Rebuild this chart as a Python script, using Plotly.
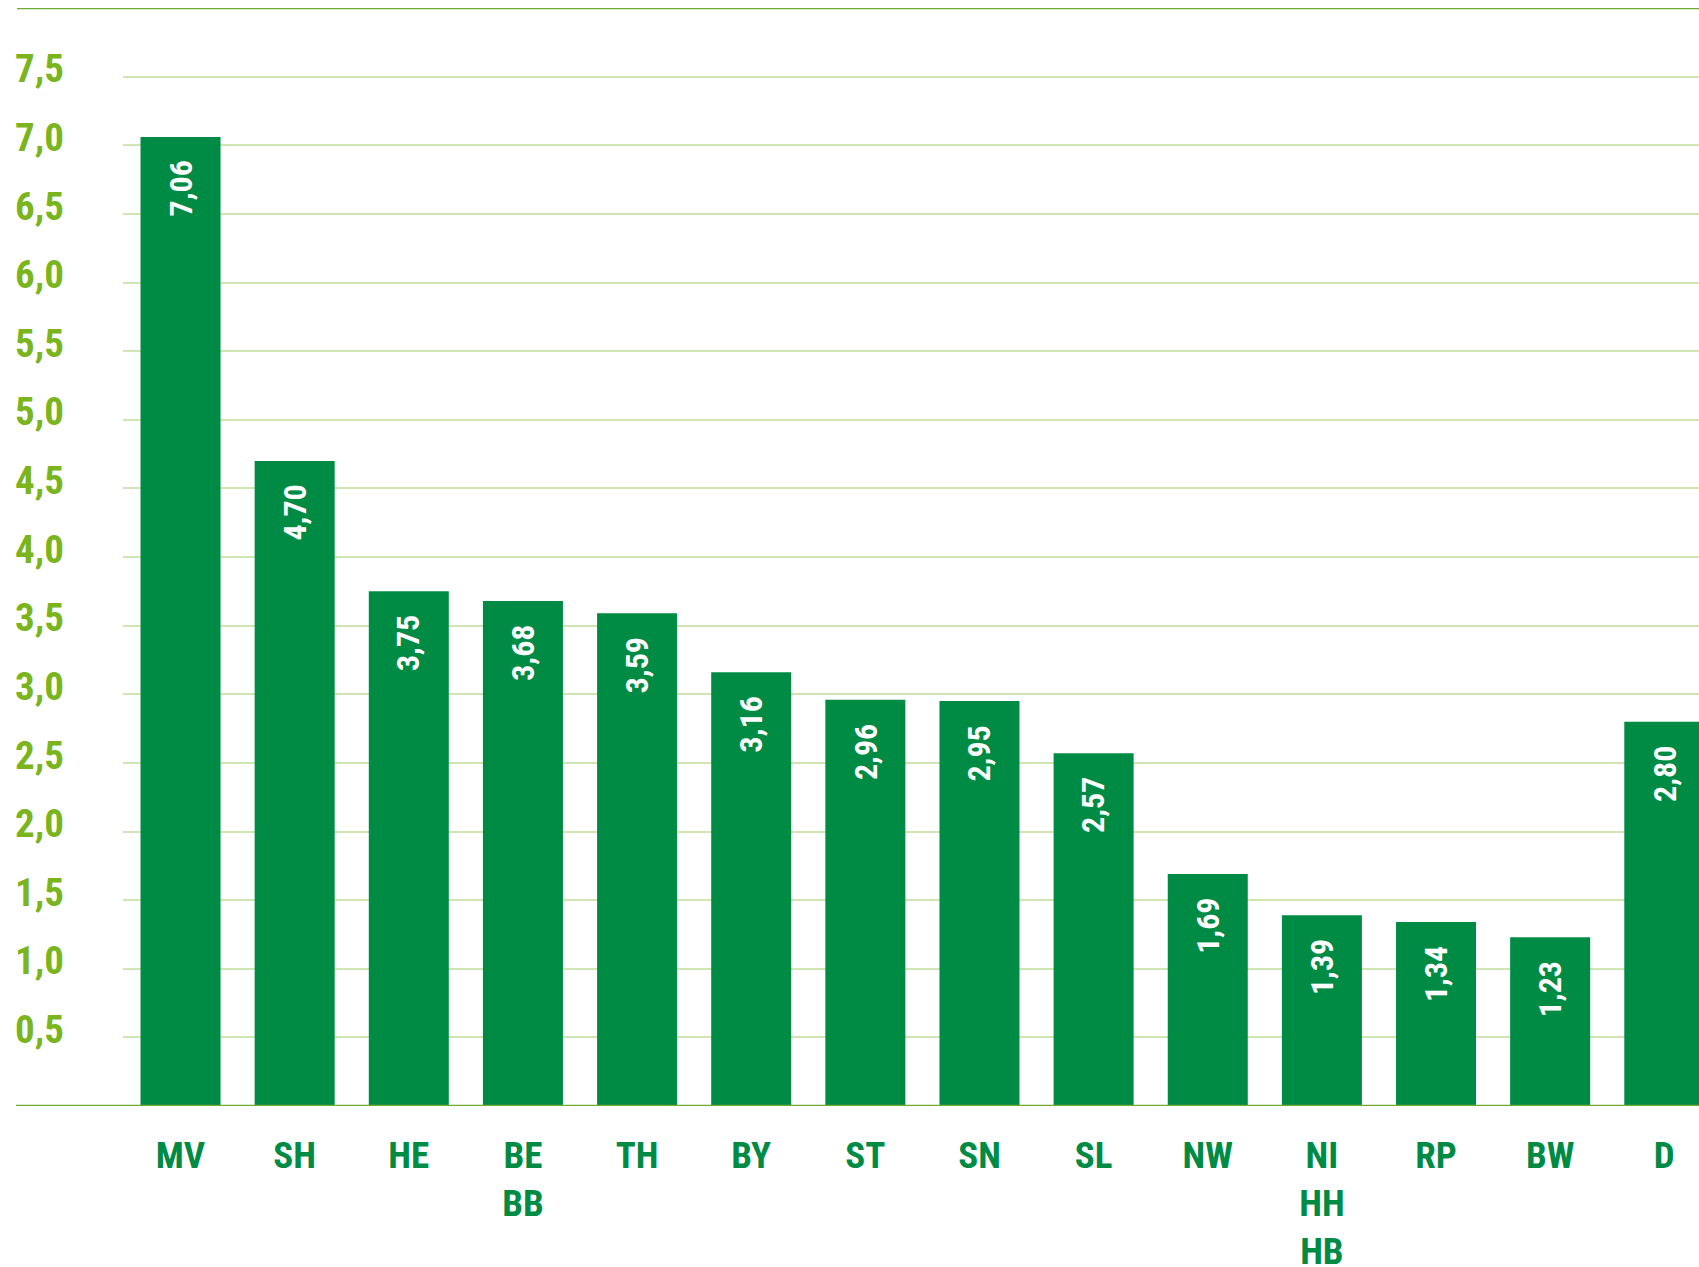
import plotly.graph_objects as go

categories = ["MV", "SH", "HE", "BE<br>BB", "TH", "BY", "ST", "SN", "SL", "NW",
              "NI<br>HH<br>HB", "RP", "BW", "D"]
values = [7.06, 4.70, 3.75, 3.68, 3.59, 3.16, 2.96, 2.95, 2.57, 1.69, 1.39, 1.34, 1.23, 2.80]
value_labels = ["7,06", "4,70", "3,75", "3,68", "3,59", "3,16", "2,96", "2,95", "2,57",
                "1,69", "1,39", "1,34", "1,23", "2,80"]
y_tickvals = [0.5, 1.0, 1.5, 2.0, 2.5, 3.0, 3.5, 4.0, 4.5, 5.0, 5.5, 6.0, 6.5, 7.0, 7.5]
y_ticktext = ["0,5", "1,0", "1,5", "2,0", "2,5", "3,0", "3,5", "4,0", "4,5", "5,0",
              "5,5", "6,0", "6,5", "7,0", "7,5"]

FONT = "Roboto Condensed, Open Sans Condensed, DejaVu Sans Condensed, sans-serif"
BAR = "#008b45"
OLIVE = "#7ab51d"
LINE = "#6fab2e"
GRID = "#cfe6b4"

W, H = 1699, 1267
L, T, B = 123, 8, 161
plot_w = W - L

fig = go.Figure()
fig.add_trace(go.Bar(x=categories, y=values, marker_color=BAR, marker_line_width=0,
                     hoverinfo="skip"))

for c, v, t in zip(categories, values, value_labels):
    fig.add_annotation(x=c, y=v, text=t, showarrow=False, textangle=-90,
                       yanchor="middle", xanchor="center", yshift=-52,
                       font=dict(family=FONT, size=32, color="white", weight="bold"))

fig.add_shape(type="line", xref="paper", yref="y", x0=(17 - L) / plot_w, x1=1, y0=8, y1=8,
              line=dict(color=LINE, width=2.5), layer="above")
fig.add_shape(type="line", xref="paper", yref="y", x0=(16 - L) / plot_w, x1=1, y0=0, y1=0,
              line=dict(color=LINE, width=2.5), layer="above")

fig.update_layout(
    width=W, height=H,
    margin=dict(l=L, r=0, t=T, b=B, autoexpand=False),
    paper_bgcolor="white", plot_bgcolor="white",
    showlegend=False,
    bargap=0.299,
    xaxis=dict(type="category", range=[-0.504, 13.304], showgrid=False, zeroline=False,
               showline=False, ticks="", automargin=False,
               tickfont=dict(family=FONT, size=37, color=BAR, weight="bold"),
               ticklabelstandoff=24),
    yaxis=dict(range=[0, 8], tickvals=y_tickvals, ticktext=y_ticktext,
               showgrid=True, gridcolor=GRID, gridwidth=1.5, zeroline=False,
               showline=False, ticks="", automargin=False,
               tickfont=dict(family=FONT, size=39, color=OLIVE, weight="bold"),
               ticklabelstandoff=58, ticklabelshift=-8),
)

fig.write_html("out.html", config={"displayModeBar": False},
               post_script="document.body.style.margin='0';document.body.style.overflow='hidden';")
